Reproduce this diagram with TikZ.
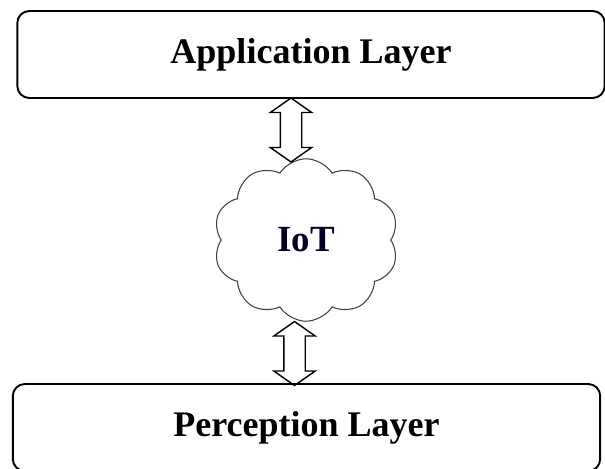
\documentclass[tikz,border=0pt]{standalone}
\usepackage{fontspec}
\setmainfont{Liberation Serif}
\usetikzlibrary{shapes.symbols, shapes.arrows}

\begin{document}
\begin{tikzpicture}[x=0.02cm, y=-0.02cm,
    layer/.style={draw, line width=1.1pt, rounded corners=0.24cm, minimum width=11.75cm,
      minimum height=1.74cm, inner sep=0pt, font=\fontsize{20.5}{24}\selectfont\bfseries},
    link/.style={draw, line width=0.8pt, double arrow, double arrow head extend=0.2cm,
      double arrow tip angle=110, inner xsep=0pt, inner ysep=0.2cm,
      minimum height=1.28cm, rotate=90},
  ]
    \useasboundingbox (0,0) rectangle (605,468);
    \node[layer] (app) at (311, 54.5) {Application Layer};
    \node[layer] (per) at (306.5, 427.5) {Perception Layer};
    \node[cloud, cloud puffs=10, cloud puff arc=115, aspect=1.15, draw=black!75, line width=0.6pt,
      minimum width=3.7cm, minimum height=3.25cm, inner sep=0pt,
      font=\fontsize{21}{24}\selectfont\bfseries, text=blue!15!black] (iot) at (306, 240) {IoT};
    \node[link] (up) at (291, 130) {};
    \node[link] (down) at (294.5, 353.5) {};
  \end{tikzpicture}
\end{document}
